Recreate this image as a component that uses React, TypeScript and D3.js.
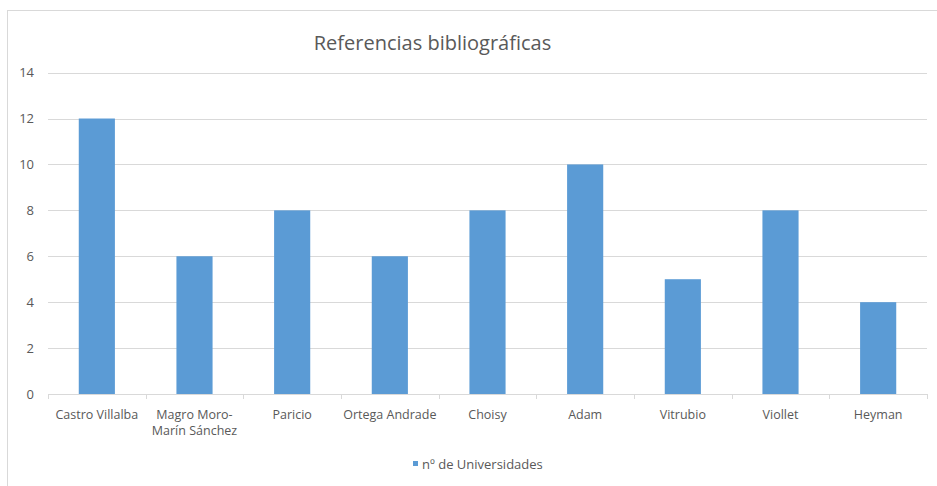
import React, { useEffect, useRef } from "react";
import * as d3 from "d3";

const categories: string[][] = [
  ["Castro Villalba"],
  ["Magro Moro-", "Marín Sánchez"],
  ["Paricio"],
  ["Ortega Andrade"],
  ["Choisy"],
  ["Adam"],
  ["Vitrubio"],
  ["Viollet"],
  ["Heyman"],
];
const universidades = [12, 6, 8, 6, 8, 10, 5, 8, 4];
const yTicks = [0, 2, 4, 6, 8, 10, 12, 14];

const WIDTH = 937;
const HEIGHT = 486;
const FONT = "'Open Sans', 'Liberation Sans', sans-serif";
const TEXT = "#595959";

const App: React.FC = () => {
  const svgRef = useRef<SVGSVGElement | null>(null);

  useEffect(() => {
    if (!svgRef.current) return;
    const svg = d3.select(svgRef.current);
    svg.selectAll("*").remove();

    const margin = { top: 72.6, left: 48 };
    const plotRight = 927;
    const plotBottom = 394;

    // chart frame (top and left edges only visible)
    svg.append("line").attr("x1", 7).attr("x2", WIDTH).attr("y1", 10.5).attr("y2", 10.5)
      .attr("stroke", "#d9d9d9");
    svg.append("line").attr("x1", 7.5).attr("x2", 7.5).attr("y1", 10).attr("y2", HEIGHT)
      .attr("stroke", "#d9d9d9");

    const keys = categories.map((c) => c.join(" "));
    const x = d3.scaleBand().domain(keys).range([margin.left, plotRight]).paddingInner(0.63).paddingOuter(0.315);
    const band = d3.scaleBand().domain(keys).range([margin.left, plotRight]);
    const y = d3.scaleLinear().domain([0, 14]).range([plotBottom, margin.top]);

    // gridlines
    svg.append("g")
      .selectAll("line")
      .data(yTicks.filter((t) => t > 0))
      .enter()
      .append("line")
      .attr("x1", margin.left)
      .attr("x2", plotRight)
      .attr("y1", (d) => Math.round(y(d)) + 0.5)
      .attr("y2", (d) => Math.round(y(d)) + 0.5)
      .attr("stroke", "#d9d9d9");

    // y tick labels
    svg.append("g")
      .selectAll("text")
      .data(yTicks)
      .enter()
      .append("text")
      .attr("x", 34)
      .attr("y", (d) => y(d))
      .attr("dy", "0.35em")
      .attr("text-anchor", "end")
      .attr("font-family", FONT)
      .attr("font-size", 13)
      .attr("fill", TEXT)
      .text((d) => d);

    // bars
    svg.append("g")
      .selectAll("rect")
      .data(universidades)
      .enter()
      .append("rect")
      .attr("x", (_, i) => x(keys[i]) ?? 0)
      .attr("y", (d) => y(d))
      .attr("width", x.bandwidth())
      .attr("height", (d) => plotBottom - y(d))
      .attr("fill", "#5b9bd5");

    // x axis line and ticks
    svg.append("line").attr("x1", margin.left).attr("x2", plotRight)
      .attr("y1", plotBottom + 0.5).attr("y2", plotBottom + 0.5).attr("stroke", "#d9d9d9");
    svg.append("g")
      .selectAll("line")
      .data([...keys.map((k) => band(k) ?? 0), plotRight])
      .enter()
      .append("line")
      .attr("x1", (d) => Math.round(d) + 0.5)
      .attr("x2", (d) => Math.round(d) + 0.5)
      .attr("y1", plotBottom)
      .attr("y2", plotBottom + 5)
      .attr("stroke", "#d9d9d9");

    // category labels, one text per line
    const labelLines = categories.flatMap((lines, i) =>
      lines.map((line, j) => ({ line, i, j })),
    );
    svg.append("g")
      .selectAll("text")
      .data(labelLines)
      .enter()
      .append("text")
      .attr("x", (d) => (band(keys[d.i]) ?? 0) + band.bandwidth() / 2)
      .attr("y", (d) => 419 + d.j * 16)
      .attr("text-anchor", "middle")
      .attr("font-family", FONT)
      .attr("font-size", 12.5)
      .attr("fill", TEXT)
      .text((d) => d.line);

    // title
    svg.append("text")
      .attr("x", 432.5)
      .attr("y", 50)
      .attr("text-anchor", "middle")
      .attr("font-family", FONT)
      .attr("font-size", 20)
      .attr("fill", TEXT)
      .text("Referencias bibliográficas");

    // legend
    svg.append("rect").attr("x", 413).attr("y", 461).attr("width", 5).attr("height", 5).attr("fill", "#5b9bd5");
    svg.append("text")
      .attr("x", 422)
      .attr("y", 468.5)
      .attr("font-family", FONT)
      .attr("font-size", 13)
      .attr("fill", TEXT)
      .text("nº de Universidades");
  }, []);

  return (
    <svg
      ref={svgRef}
      width={WIDTH}
      height={HEIGHT}
      style={{ position: "absolute", left: 0, top: 0, background: "#fff" }}
    />
  );
};

export default App;
